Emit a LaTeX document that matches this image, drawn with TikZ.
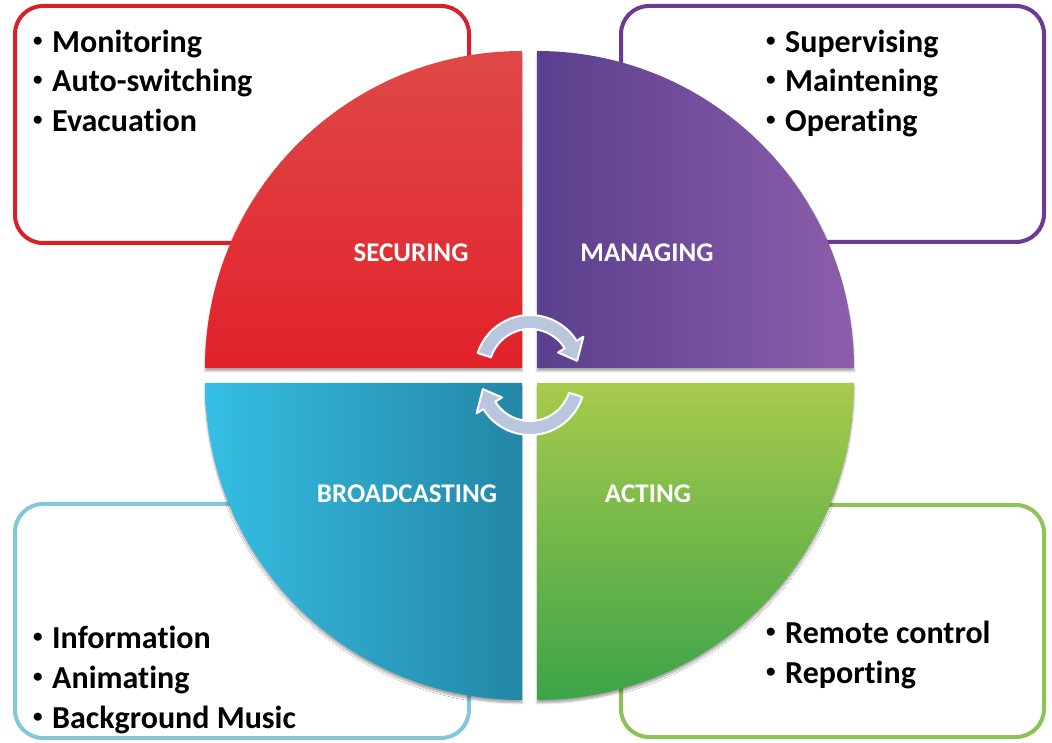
\documentclass[tikz,border=0pt]{standalone}
\usepackage{fontspec}
\setmainfont[Ligatures=CommonOff]{Carlito}
\usetikzlibrary{shadows.blur}
\definecolor{rbord}{HTML}{D62128}
\definecolor{pbord}{HTML}{6B3A94}
\definecolor{bbord}{HTML}{84C7DA}
\definecolor{gbord}{HTML}{8DC256}
\definecolor{rtop}{HTML}{E04848}
\definecolor{rbot}{HTML}{E1222A}
\definecolor{pleft}{HTML}{5A3F8E}
\definecolor{pright}{HTML}{8C5EAB}
\definecolor{bleft}{HTML}{36BEE4}
\definecolor{bright}{HTML}{2386A6}
\definecolor{gtop}{HTML}{A8CA4C}
\definecolor{gbot}{HTML}{3CA448}
\definecolor{arrowfill}{HTML}{B9C6DE}
\tikzset{
  listbox/.style={draw=#1, fill=white, line width=4pt, rounded corners=28pt, inner sep=0pt},
  item/.style={anchor=base west, inner sep=0pt, font=\fontsize{32}{38}\selectfont\bfseries, text=black},
  seclabel/.style={anchor=base, inner sep=0pt, font=\fontsize{27}{32}\selectfont\bfseries, text=white},
  sector/.style={blur shadow={shadow xshift=0pt, shadow yshift=-3pt, shadow blur steps=8, shadow opacity=35}},
  cyc/.style={fill=arrowfill, draw=white, line width=2pt, line join=round}
}
\newcommand{\bul}{\makebox[19pt][l]{\raisebox{6pt}{\fontsize{19}{19}\selectfont\textbullet}}}
\begin{document}
\begin{tikzpicture}[x=1pt,y=1pt]
\useasboundingbox (0,0) rectangle (1052,742);
% boxes
\node[listbox=rbord, minimum width=454pt, minimum height=237pt] (rbox) at (242,617.5) {};
\node[listbox=pbord, minimum width=423pt, minimum height=236pt] (pbox) at (832.5,618) {};
\node[listbox=bbord, minimum width=454pt, minimum height=234pt] (bbox) at (242,121) {};
\node[listbox=gbord, minimum width=423pt, minimum height=232pt] (gbox) at (832.5,121) {};
% sectors
\shade[sector, top color=rtop, bottom color=rbot] (522,374) -- ++(0,317) arc[start angle=90, end angle=180, radius=317] -- cycle;
\shade[sector, left color=pleft, right color=pright] (537,374) -- ++(317,0) arc[start angle=0, end angle=90, radius=317] -- cycle;
\shade[sector, left color=bleft, right color=bright] (522,359) -- ++(-317,0) arc[start angle=180, end angle=270, radius=317] -- cycle;
\shade[sector, top color=gtop, bottom color=gbot] (537,359) -- ++(0,-317) arc[start angle=270, end angle=360, radius=317] -- cycle;
% cycle arrows
\begin{scope}[shift={(530,372)}]
\path[cyc] (162:55) arc[start angle=162, end angle=32, radius=55] -- (32:63) -- (11:48) -- (32:33) -- (32:41) arc[start angle=32, end angle=162, radius=41] -- cycle;
\end{scope}
\begin{scope}[shift={(530,362)}]
\path[cyc] (-18:55) arc[start angle=-18, end angle=-148, radius=55] -- (-148:63) -- (-169:48) -- (-148:33) -- (-148:41) arc[start angle=-148, end angle=-18, radius=41] -- cycle;
\end{scope}
% sector labels
\node[seclabel] (lsec) at (411,480) {SECURING};
\node[seclabel] (lman) at (647,480) {MANAGING};
\node[seclabel] (lbro) at (407,239) {BROADCASTING};
\node[seclabel] (lact) at (648,239) {ACTING};
% lists
\node[item] (r1) at (33,689) {\bul Monitoring};
\node[item] (r2) at (33,650) {\bul Auto-switching};
\node[item] (r3) at (33,610) {\bul Evacuation};
\node[item] (p1) at (766,689) {\bul Supervising};
\node[item] (p2) at (766,650) {\bul Maintening};
\node[item] (p3) at (766,610) {\bul Operating};
\node[item] (b1) at (33,94) {\bul Information};
\node[item] (b2) at (33,54) {\bul Animating};
\node[item] (b3) at (33,14) {\bul Background Music};
\node[item] (g1) at (766,99) {\bul Remote control};
\node[item] (g2) at (766,59) {\bul Reporting};
\end{tikzpicture}
\end{document}
